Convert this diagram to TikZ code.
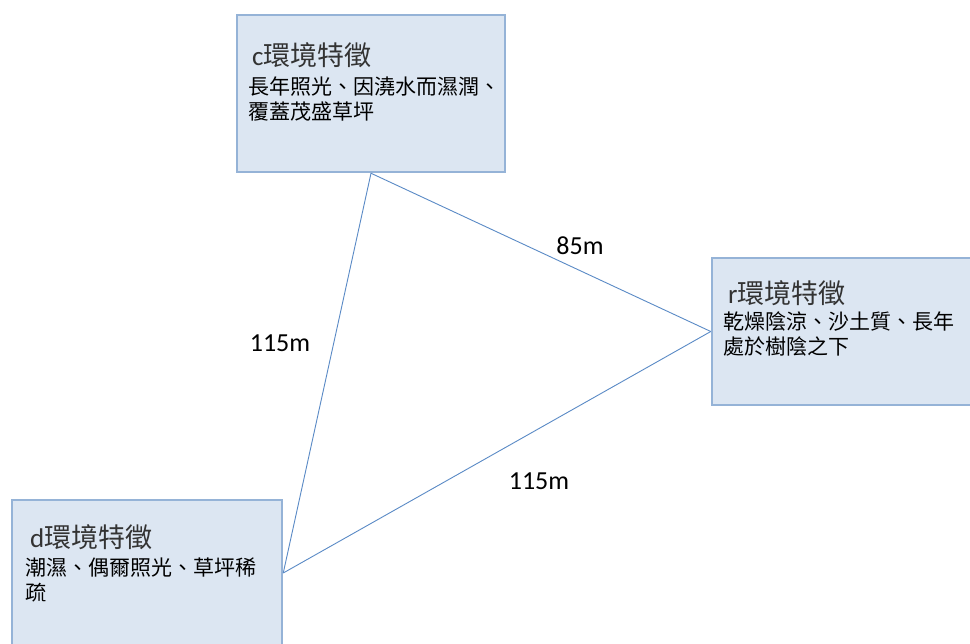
\documentclass[tikz,border=0pt]{standalone}
\usepackage{fontspec}
\setmainfont{Carlito}
\newfontfamily\cjk{Noto Sans CJK TC}
\definecolor{boxfill}{HTML}{DCE6F2}
\definecolor{boxline}{HTML}{95B3D7}
\definecolor{linkc}{HTML}{5A8AC6}
\definecolor{titlec}{HTML}{333333}
\begin{document}
\begin{tikzpicture}[x=1pt,y=-1pt,
  envbox/.style={draw=boxline, line width=2.5pt, fill=boxfill, rectangle, inner sep=0pt},
  link/.style={draw=linkc, line width=0.9pt},
  titletext/.style={anchor=west, font=\fontsize{27}{30}\selectfont, text=titlec, inner sep=0pt},
  bodytext/.style={anchor=north west, align=left, font=\cjk\fontsize{21}{25}\selectfont, inner sep=0pt},
  dist/.style={font=\fontsize{26}{30}\selectfont, inner sep=0pt}]
\useasboundingbox (0,0) rectangle (970,644);
\clip (0,0) rectangle (970,644);
\fill[white] (0,0) rectangle (970,644);
% boxes
\node[envbox, minimum width=268pt, minimum height=157pt] (c) at (371,93.5) {};
\node[envbox, minimum width=274pt, minimum height=147pt] (r) at (849,331.5) {};
\node[envbox, minimum width=270pt, minimum height=146pt] (d) at (147,573) {};
% titles
\node[titletext] (ct) at (252,55) {c{\cjk 環境特徵}};
\node[titletext] (rt) at (728,293) {r{\cjk 環境特徵}};
\node[titletext] (dt) at (30,537) {d{\cjk 環境特徵}};
% bodies
\node[bodytext] (cb) at (248,76.5) {長年照光、因澆水而濕潤、\\覆蓋茂盛草坪};
\node[bodytext] (rb) at (723,311.5) {乾燥陰涼、沙土質、長年\\處於樹陰之下};
\node[bodytext] (db) at (25,557.5) {潮濕、偶爾照光、草坪稀\\疏};
% links
\draw[link] (c.south) -- (d.east);
\draw[link] (c.south) -- (r.west);
\draw[link] (r.west) -- (d.east);
% distances
\node[dist] (l1) at (580,246) {85m};
\node[dist] (l2) at (280,343) {115m};
\node[dist] (l3) at (539,481) {115m};
\end{tikzpicture}
\end{document}
